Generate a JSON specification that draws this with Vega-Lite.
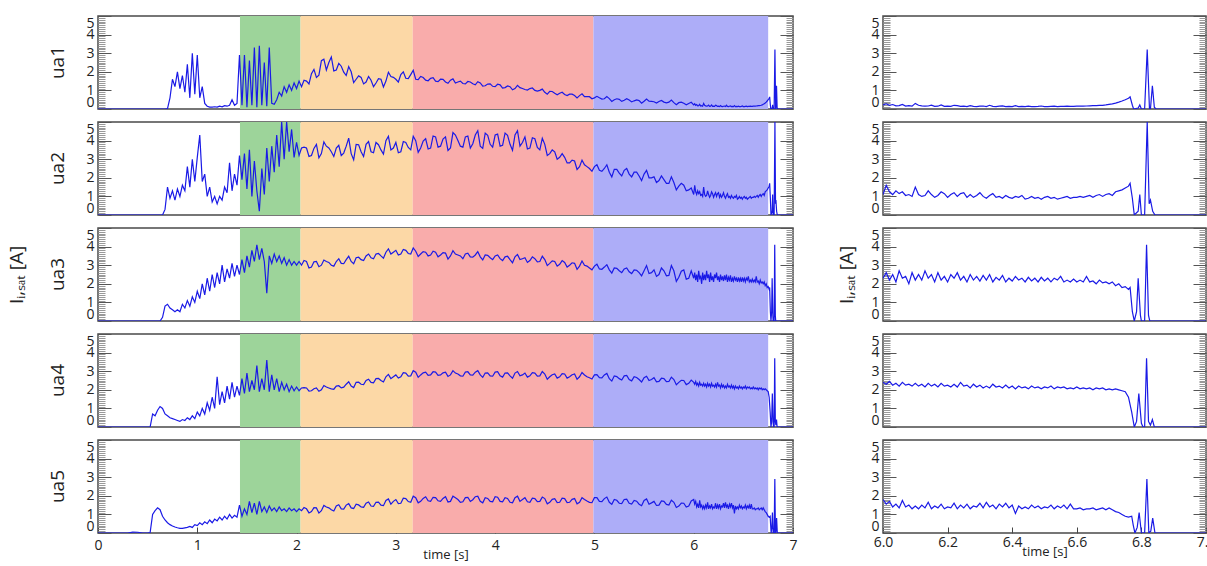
{
"$schema":"https://vega.github.io/schema/vega-lite/v6.json",
"background":"white",
"padding":{"left":7,"top":10,"right":8,"bottom":0},
"config":{
"font":"Open Sans",
"view":{"stroke":"#4a4a4a","strokeWidth":1.5},
"axis":{"grid":false,"domain":false,"labelFontSize":14,"labelColor":"#222","titleFontSize":13,"titleFontWeight":"normal","titleColor":"#222","labelOverlap":false,"labelFlush":false,"labelBound":false},
"header":{"titleFontWeight":"normal","titleColor":"#222","labelColor":"#222"}
},
"data":{"values":[
{"band":"g","b0":1.43,"b1":2.04},{"band":"o","b0":2.04,"b1":3.17},{"band":"r","b0":3.17,"b1":4.99},{"band":"b","b0":4.99,"b1":6.75},
{"t":0,"ua1":0,"ua2":0,"ua3":0,"ua4":0,"ua5":0},
{"t":0.3,"ua1":0,"ua2":0,"ua3":0,"ua4":0,"ua5":0},
{"t":0.35,"ua5":0.05},{"t":0.4,"ua5":0.04},{"t":0.45,"ua5":0},
{"t":0.5,"ua1":0,"ua2":0,"ua3":0,"ua4":0,"ua5":0},
{"t":0.525,"ua1":0,"ua2":0,"ua3":0,"ua4":0,"ua5":0.02},
{"t":0.55,"ua1":0,"ua2":0,"ua3":0,"ua4":0.7,"ua5":1.0},
{"t":0.575,"ua1":0,"ua2":0,"ua3":0,"ua4":0.6,"ua5":1.2},
{"t":0.6,"ua1":0,"ua2":0,"ua3":0,"ua4":0.9,"ua5":1.35},
{"t":0.625,"ua1":0,"ua2":0,"ua3":0,"ua4":1.1,"ua5":1.25},
{"t":0.65,"ua1":0,"ua2":0,"ua3":0.2,"ua4":1.0,"ua5":0.9},
{"t":0.675,"ua1":0,"ua2":0.3,"ua3":0.8,"ua4":0.7,"ua5":0.7},
{"t":0.7,"ua1":0.02,"ua2":1.5,"ua3":0.9,"ua4":0.6,"ua5":0.55},
{"t":0.725,"ua1":0.6,"ua2":0.9,"ua3":0.7,"ua4":0.5,"ua5":0.45},
{"t":0.75,"ua1":1.6,"ua2":1.3,"ua3":0.6,"ua4":0.45,"ua5":0.38},
{"t":0.775,"ua1":1.2,"ua2":0.8,"ua3":0.5,"ua4":0.4,"ua5":0.32},
{"t":0.8,"ua1":2.0,"ua2":1.4,"ua3":0.6,"ua4":0.35,"ua5":0.28},
{"t":0.825,"ua1":1.1,"ua2":1.0,"ua3":0.5,"ua4":0.3,"ua5":0.25},
{"t":0.85,"ua1":1.8,"ua2":1.6,"ua3":0.9,"ua4":0.4,"ua5":0.25},
{"t":0.875,"ua1":0.9,"ua2":1.3,"ua3":0.7,"ua4":0.35,"ua5":0.28},
{"t":0.9,"ua1":2.4,"ua2":2.6,"ua3":1.1,"ua4":0.5,"ua5":0.3},
{"t":0.925,"ua1":0.6,"ua2":1.5,"ua3":0.8,"ua4":0.4,"ua5":0.35},
{"t":0.95,"ua1":3.0,"ua2":3.0,"ua3":1.3,"ua4":0.6,"ua5":0.3},
{"t":0.975,"ua1":0.8,"ua2":1.8,"ua3":1.0,"ua4":0.45,"ua5":0.45},
{"t":1.0,"ua1":2.9,"ua2":3.1,"ua3":1.6,"ua4":0.8,"ua5":0.4},
{"t":1.025,"ua1":0.6,"ua2":4.3,"ua3":1.2,"ua4":0.6,"ua5":0.55},
{"t":1.05,"ua1":1.2,"ua2":1.8,"ua3":2.0,"ua4":1.0,"ua5":0.45},
{"t":1.075,"ua1":0.3,"ua2":2.2,"ua3":1.4,"ua4":0.7,"ua5":0.6},
{"t":1.1,"ua1":0.15,"ua2":1.0,"ua3":2.3,"ua4":1.3,"ua5":0.5},
{"t":1.125,"ua1":0.1,"ua2":1.5,"ua3":1.6,"ua4":0.9,"ua5":0.7},
{"t":1.15,"ua1":0.1,"ua2":0.7,"ua3":2.5,"ua4":1.6,"ua5":0.55},
{"t":1.175,"ua1":0.12,"ua2":1.0,"ua3":1.8,"ua4":1.0,"ua5":0.75},
{"t":1.2,"ua1":0.1,"ua2":0.6,"ua3":2.6,"ua4":2.7,"ua5":0.65},
{"t":1.225,"ua1":0.15,"ua2":1.0,"ua3":2.0,"ua4":1.2,"ua5":0.85},
{"t":1.25,"ua1":0.12,"ua2":0.8,"ua3":3.0,"ua4":1.9,"ua5":0.7},
{"t":1.275,"ua1":0.18,"ua2":1.5,"ua3":2.1,"ua4":1.3,"ua5":0.9},
{"t":1.3,"ua1":0.15,"ua2":1.2,"ua3":2.8,"ua4":2.2,"ua5":0.75},
{"t":1.325,"ua1":0.2,"ua2":2.8,"ua3":2.3,"ua4":1.5,"ua5":1.0},
{"t":1.35,"ua1":0.5,"ua2":1.3,"ua3":3.1,"ua4":2.4,"ua5":0.8},
{"t":1.375,"ua1":0.2,"ua2":2.2,"ua3":2.4,"ua4":1.6,"ua5":0.95},
{"t":1.4,"ua1":0.3,"ua2":1.6,"ua3":3.0,"ua4":2.2,"ua5":0.85},
{"t":1.425,"ua1":2.9,"ua2":3.2,"ua3":2.5,"ua4":1.7,"ua5":1.5},
{"t":1.45,"ua1":0.2,"ua2":1.9,"ua3":3.3,"ua4":2.6,"ua5":0.9},
{"t":1.475,"ua1":2.9,"ua2":3.3,"ua3":2.6,"ua4":1.8,"ua5":1.3},
{"t":1.5,"ua1":0.1,"ua2":1.4,"ua3":3.5,"ua4":2.9,"ua5":1.0},
{"t":1.525,"ua1":2.6,"ua2":3.5,"ua3":2.9,"ua4":1.9,"ua5":1.7},
{"t":1.55,"ua1":0.2,"ua2":1.0,"ua3":3.8,"ua4":2.5,"ua5":1.1},
{"t":1.575,"ua1":3.3,"ua2":2.9,"ua3":3.2,"ua4":2.0,"ua5":1.6},
{"t":1.6,"ua1":0.1,"ua2":1.3,"ua3":4.1,"ua4":3.3,"ua5":1.0},
{"t":1.625,"ua1":3.4,"ua2":0.2,"ua3":3.3,"ua4":1.9,"ua5":1.7},
{"t":1.65,"ua1":0.2,"ua2":2.5,"ua3":3.9,"ua4":2.6,"ua5":1.15},
{"t":1.675,"ua1":2.5,"ua2":1.1,"ua3":3.2,"ua4":2.0,"ua5":1.4},
{"t":1.7,"ua1":0.15,"ua2":3.6,"ua3":1.5,"ua4":3.6,"ua5":1.1},
{"t":1.725,"ua1":3.3,"ua2":1.8,"ua3":3.5,"ua4":1.9,"ua5":1.45},
{"t":1.75,"ua1":0.3,"ua2":3.7,"ua3":3.1,"ua4":2.8,"ua5":1.2},
{"t":1.775,"ua1":0.25,"ua2":2.3,"ua3":3.6,"ua4":2.0,"ua5":1.35},
{"t":1.8,"ua1":0.5,"ua2":4.3,"ua3":3.2,"ua4":2.6,"ua5":1.15},
{"t":1.825,"ua1":0.9,"ua2":2.6,"ua3":3.5,"ua4":1.9,"ua5":1.4},
{"t":1.85,"ua1":0.7,"ua2":5.0,"ua3":3.1,"ua4":2.4,"ua5":1.2},
{"t":1.875,"ua1":1.2,"ua2":3.0,"ua3":3.4,"ua4":2.0,"ua5":1.3},
{"t":1.9,"ua1":0.9,"ua2":5.0,"ua3":3.0,"ua4":2.3,"ua5":1.15},
{"t":1.925,"ua1":1.3,"ua2":3.4,"ua3":3.3,"ua4":1.9,"ua5":1.35},
{"t":1.95,"ua1":1.0,"ua2":4.6,"ua3":3.0,"ua4":2.2,"ua5":1.2},
{"t":1.975,"ua1":1.4,"ua2":3.1,"ua3":3.2,"ua4":1.95,"ua5":1.3},
{"t":2.0,"ua1":1.1,"ua2":3.9,"ua3":3.0,"ua4":2.15,"ua5":1.15},
{"t":2.025,"ua1":1.5,"ua2":3.2,"ua3":3.2,"ua4":1.95,"ua5":1.3},
{"t":2.05,"ua1":1.2,"ua2":3.6,"ua3":3.0,"ua4":2.1,"ua5":1.2},
{"t":2.1,"ua1":1.5,"ua2":3.6,"ua3":3.2,"ua4":2.1,"ua5":1.3},
{"t":2.15,"ua1":1.9,"ua2":3.2,"ua3":2.9,"ua4":1.95,"ua5":1.15},
{"t":2.2,"ua1":1.7,"ua2":3.8,"ua3":3.2,"ua4":2.1,"ua5":1.35},
{"t":2.25,"ua1":2.6,"ua2":3.3,"ua3":3.0,"ua4":2.0,"ua5":1.2},
{"t":2.3,"ua1":2.1,"ua2":3.7,"ua3":3.2,"ua4":2.15,"ua5":1.4},
{"t":2.35,"ua1":2.8,"ua2":3.4,"ua3":3.0,"ua4":2.05,"ua5":1.25},
{"t":2.4,"ua1":2.1,"ua2":3.6,"ua3":3.2,"ua4":2.2,"ua5":1.45},
{"t":2.45,"ua1":2.3,"ua2":3.2,"ua3":3.1,"ua4":2.1,"ua5":1.3},
{"t":2.5,"ua1":1.8,"ua2":3.7,"ua3":3.3,"ua4":2.3,"ua5":1.5},
{"t":2.55,"ua1":2.0,"ua2":3.3,"ua3":3.2,"ua4":2.2,"ua5":1.35},
{"t":2.6,"ua1":1.6,"ua2":3.8,"ua3":3.4,"ua4":2.4,"ua5":1.55},
{"t":2.65,"ua1":1.7,"ua2":3.4,"ua3":3.3,"ua4":2.3,"ua5":1.4},
{"t":2.7,"ua1":1.45,"ua2":3.8,"ua3":3.5,"ua4":2.5,"ua5":1.6},
{"t":2.75,"ua1":1.55,"ua2":3.4,"ua3":3.4,"ua4":2.4,"ua5":1.45},
{"t":2.8,"ua1":1.4,"ua2":3.9,"ua3":3.6,"ua4":2.6,"ua5":1.65},
{"t":2.85,"ua1":1.6,"ua2":3.5,"ua3":3.5,"ua4":2.5,"ua5":1.5},
{"t":2.9,"ua1":1.5,"ua2":4.0,"ua3":3.7,"ua4":2.7,"ua5":1.75},
{"t":2.95,"ua1":1.75,"ua2":3.5,"ua3":3.6,"ua4":2.6,"ua5":1.55},
{"t":3.0,"ua1":1.6,"ua2":3.9,"ua3":3.8,"ua4":2.8,"ua5":1.8},
{"t":3.05,"ua1":1.85,"ua2":3.4,"ua3":3.6,"ua4":2.7,"ua5":1.6},
{"t":3.1,"ua1":1.65,"ua2":3.9,"ua3":3.8,"ua4":2.9,"ua5":1.85},
{"t":3.15,"ua1":1.85,"ua2":3.5,"ua3":3.6,"ua4":2.75,"ua5":1.65},
{"t":3.2,"ua1":1.6,"ua2":4.0,"ua3":3.75,"ua4":2.95,"ua5":1.9},
{"t":3.25,"ua1":1.75,"ua2":3.6,"ua3":3.6,"ua4":2.8,"ua5":1.7},
{"t":3.3,"ua1":1.55,"ua2":4.1,"ua3":3.7,"ua4":2.95,"ua5":1.95},
{"t":3.35,"ua1":1.65,"ua2":3.6,"ua3":3.55,"ua4":2.8,"ua5":1.7},
{"t":3.4,"ua1":1.5,"ua2":4.2,"ua3":3.7,"ua4":2.95,"ua5":1.9},
{"t":3.45,"ua1":1.6,"ua2":3.7,"ua3":3.55,"ua4":2.8,"ua5":1.7},
{"t":3.5,"ua1":1.45,"ua2":4.2,"ua3":3.65,"ua4":2.95,"ua5":1.95},
{"t":3.55,"ua1":1.55,"ua2":3.6,"ua3":3.5,"ua4":2.8,"ua5":1.7},
{"t":3.6,"ua1":1.4,"ua2":4.3,"ua3":3.6,"ua4":2.9,"ua5":1.9},
{"t":3.65,"ua1":1.5,"ua2":3.7,"ua3":3.5,"ua4":2.75,"ua5":1.65},
{"t":3.7,"ua1":1.35,"ua2":4.2,"ua3":3.6,"ua4":2.95,"ua5":1.9},
{"t":3.75,"ua1":1.45,"ua2":3.6,"ua3":3.45,"ua4":2.8,"ua5":1.7},
{"t":3.8,"ua1":1.3,"ua2":4.3,"ua3":3.55,"ua4":2.95,"ua5":1.95},
{"t":3.85,"ua1":1.4,"ua2":3.7,"ua3":3.45,"ua4":2.8,"ua5":1.7},
{"t":3.9,"ua1":1.25,"ua2":4.4,"ua3":3.55,"ua4":2.9,"ua5":1.9},
{"t":3.95,"ua1":1.35,"ua2":3.8,"ua3":3.4,"ua4":2.75,"ua5":1.7},
{"t":4.0,"ua1":1.2,"ua2":4.3,"ua3":3.5,"ua4":2.95,"ua5":1.95},
{"t":4.05,"ua1":1.3,"ua2":3.7,"ua3":3.35,"ua4":2.75,"ua5":1.7},
{"t":4.1,"ua1":1.15,"ua2":4.4,"ua3":3.45,"ua4":2.9,"ua5":1.9},
{"t":4.15,"ua1":1.2,"ua2":3.8,"ua3":3.3,"ua4":2.75,"ua5":1.65},
{"t":4.2,"ua1":1.1,"ua2":4.3,"ua3":3.45,"ua4":2.9,"ua5":1.9},
{"t":4.25,"ua1":1.15,"ua2":3.7,"ua3":3.3,"ua4":2.75,"ua5":1.7},
{"t":4.3,"ua1":1.05,"ua2":4.2,"ua3":3.4,"ua4":2.9,"ua5":1.9},
{"t":4.35,"ua1":1.1,"ua2":3.6,"ua3":3.25,"ua4":2.75,"ua5":1.65},
{"t":4.4,"ua1":1.0,"ua2":4.1,"ua3":3.35,"ua4":2.9,"ua5":1.85},
{"t":4.45,"ua1":1.0,"ua2":3.5,"ua3":3.2,"ua4":2.75,"ua5":1.7},
{"t":4.5,"ua1":0.9,"ua2":3.8,"ua3":3.3,"ua4":2.85,"ua5":1.85},
{"t":4.55,"ua1":0.95,"ua2":3.3,"ua3":3.1,"ua4":2.7,"ua5":1.65},
{"t":4.6,"ua1":0.85,"ua2":3.4,"ua3":3.2,"ua4":2.85,"ua5":1.85},
{"t":4.65,"ua1":0.85,"ua2":3.1,"ua3":3.05,"ua4":2.7,"ua5":1.65},
{"t":4.7,"ua1":0.78,"ua2":3.1,"ua3":3.15,"ua4":2.85,"ua5":1.85},
{"t":4.75,"ua1":0.8,"ua2":2.8,"ua3":3.0,"ua4":2.7,"ua5":1.65},
{"t":4.8,"ua1":0.72,"ua2":2.9,"ua3":3.1,"ua4":2.85,"ua5":1.85},
{"t":4.85,"ua1":0.72,"ua2":2.6,"ua3":2.95,"ua4":2.7,"ua5":1.65},
{"t":4.9,"ua1":0.66,"ua2":2.7,"ua3":3.0,"ua4":2.8,"ua5":1.8},
{"t":4.95,"ua1":0.66,"ua2":2.5,"ua3":2.85,"ua4":2.65,"ua5":1.65},
{"t":5.0,"ua1":0.6,"ua2":2.6,"ua3":2.95,"ua4":2.8,"ua5":1.9},
{"t":5.05,"ua1":0.6,"ua2":2.4,"ua3":2.8,"ua4":2.65,"ua5":1.7},
{"t":5.1,"ua1":0.55,"ua2":2.5,"ua3":2.9,"ua4":2.8,"ua5":1.85},
{"t":5.15,"ua1":0.56,"ua2":2.3,"ua3":2.75,"ua4":2.6,"ua5":1.65},
{"t":5.2,"ua1":0.5,"ua2":2.45,"ua3":2.85,"ua4":2.75,"ua5":1.8},
{"t":5.25,"ua1":0.52,"ua2":2.25,"ua3":2.7,"ua4":2.6,"ua5":1.6},
{"t":5.3,"ua1":0.47,"ua2":2.4,"ua3":2.8,"ua4":2.75,"ua5":1.8},
{"t":5.35,"ua1":0.48,"ua2":2.2,"ua3":2.65,"ua4":2.55,"ua5":1.6},
{"t":5.4,"ua1":0.44,"ua2":2.3,"ua3":2.75,"ua4":2.7,"ua5":1.75},
{"t":5.45,"ua1":0.45,"ua2":2.1,"ua3":2.6,"ua4":2.55,"ua5":1.55},
{"t":5.5,"ua1":0.42,"ua2":2.2,"ua3":2.7,"ua4":2.65,"ua5":1.75},
{"t":5.55,"ua1":0.42,"ua2":2.0,"ua3":2.55,"ua4":2.5,"ua5":1.55},
{"t":5.6,"ua1":0.39,"ua2":2.05,"ua3":2.75,"ua4":2.65,"ua5":1.7},
{"t":5.65,"ua1":0.4,"ua2":1.85,"ua3":2.5,"ua4":2.45,"ua5":1.5},
{"t":5.7,"ua1":0.37,"ua2":1.9,"ua3":2.7,"ua4":2.6,"ua5":1.7},
{"t":5.75,"ua1":0.37,"ua2":1.7,"ua3":2.45,"ua4":2.45,"ua5":1.5},
{"t":5.8,"ua1":0.34,"ua2":1.75,"ua3":2.7,"ua4":2.55,"ua5":1.65},
{"t":5.85,"ua1":0.34,"ua2":1.55,"ua3":2.35,"ua4":2.4,"ua5":1.45},
{"t":5.9,"ua1":0.31,"ua2":1.6,"ua3":2.75,"ua4":2.5,"ua5":1.6},
{"t":5.95,"ua1":0.3,"ua2":1.35,"ua3":2.3,"ua4":2.35,"ua5":1.45},
{"t":2.075,"ua1":1.55,"ua2":3.65,"ua3":3.25,"ua4":2.12,"ua5":1.37},
{"t":2.125,"ua1":1.35,"ua2":3.15,"ua3":2.85,"ua4":1.93,"ua5":1.08},
{"t":2.175,"ua1":2.13,"ua2":3.58,"ua3":3.18,"ua4":2.06,"ua5":1.36},
{"t":2.225,"ua1":1.82,"ua2":3.07,"ua3":2.92,"ua4":1.92,"ua5":1.07},
{"t":2.275,"ua1":2.68,"ua2":3.93,"ua3":3.28,"ua4":2.23,"ua5":1.48},
{"t":2.325,"ua1":2.5,"ua2":3.6,"ua3":3.15,"ua4":2.1,"ua5":1.35},
{"t":2.375,"ua1":2.05,"ua2":3.15,"ua3":2.95,"ua4":2.03,"ua5":1.18},
{"t":2.425,"ua1":2.45,"ua2":3.75,"ua3":3.35,"ua4":2.22,"ua5":1.52},
{"t":2.475,"ua1":1.98,"ua2":3.33,"ua3":3.08,"ua4":2.14,"ua5":1.29},
{"t":2.525,"ua1":2.28,"ua2":4.13,"ua3":3.48,"ua4":2.43,"ua5":1.58},
{"t":2.575,"ua1":1.42,"ua2":2.97,"ua3":3.08,"ua4":2.12,"ua5":1.32},
{"t":2.625,"ua1":1.78,"ua2":3.78,"ua3":3.43,"ua4":2.41,"ua5":1.51},
{"t":2.675,"ua1":1.35,"ua2":3.15,"ua3":3.25,"ua4":2.28,"ua5":1.38},
{"t":2.725,"ua1":1.75,"ua2":3.95,"ua3":3.6,"ua4":2.57,"ua5":1.67},
{"t":2.775,"ua1":1.2,"ua2":3.35,"ua3":3.35,"ua4":2.38,"ua5":1.43},
{"t":2.825,"ua1":1.63,"ua2":3.78,"ua3":3.63,"ua4":2.61,"ua5":1.66},
{"t":2.875,"ua1":1.18,"ua2":3.28,"ua3":3.38,"ua4":2.42,"ua5":1.47},
{"t":2.925,"ua1":1.98,"ua2":4.23,"ua3":3.88,"ua4":2.83,"ua5":1.83},
{"t":2.975,"ua1":1.7,"ua2":3.6,"ua3":3.7,"ua4":2.7,"ua5":1.7},
{"t":3.025,"ua1":1.45,"ua2":3.35,"ua3":3.55,"ua4":2.63,"ua5":1.58},
{"t":3.075,"ua1":2.0,"ua2":3.95,"ua3":3.85,"ua4":2.92,"ua5":1.87},
{"t":3.125,"ua1":1.63,"ua2":3.63,"ua3":3.63,"ua4":2.74,"ua5":1.69},
{"t":3.175,"ua1":2.08,"ua2":4.23,"ua3":3.93,"ua4":3.03,"ua5":1.98},
{"t":3.225,"ua1":1.58,"ua2":3.37,"ua3":3.47,"ua4":2.67,"ua5":1.62},
{"t":3.275,"ua1":1.69,"ua2":3.98,"ua3":3.73,"ua4":2.91,"ua5":1.86},
{"t":3.325,"ua1":1.52,"ua2":3.55,"ua3":3.5,"ua4":2.78,"ua5":1.73},
{"t":3.375,"ua1":1.68,"ua2":4.25,"ua3":3.75,"ua4":2.97,"ua5":1.92},
{"t":3.425,"ua1":1.47,"ua2":3.65,"ua3":3.45,"ua4":2.78,"ua5":1.73},
{"t":3.475,"ua1":1.59,"ua2":4.08,"ua3":3.68,"ua4":2.91,"ua5":1.86},
{"t":3.525,"ua1":1.38,"ua2":3.47,"ua3":3.33,"ua4":2.72,"ua5":1.67},
{"t":3.575,"ua1":1.62,"ua2":4.43,"ua3":3.78,"ua4":3.03,"ua5":1.98},
{"t":3.625,"ua1":1.45,"ua2":4.0,"ua3":3.55,"ua4":2.85,"ua5":1.8},
{"t":3.675,"ua1":1.37,"ua2":3.65,"ua3":3.35,"ua4":2.73,"ua5":1.68},
{"t":3.725,"ua1":1.48,"ua2":4.25,"ua3":3.65,"ua4":2.97,"ua5":1.92},
{"t":3.775,"ua1":1.36,"ua2":3.83,"ua3":3.43,"ua4":2.79,"ua5":1.79},
{"t":3.825,"ua1":1.47,"ua2":4.53,"ua3":3.73,"ua4":3.03,"ua5":1.98},
{"t":3.875,"ua1":1.23,"ua2":3.58,"ua3":3.28,"ua4":2.67,"ua5":1.62},
{"t":3.925,"ua1":1.34,"ua2":4.28,"ua3":3.53,"ua4":2.91,"ua5":1.86},
{"t":3.975,"ua1":1.22,"ua2":3.65,"ua3":3.3,"ua4":2.73,"ua5":1.68},
{"t":4.025,"ua1":1.33,"ua2":4.35,"ua3":3.55,"ua4":2.97,"ua5":1.92},
{"t":4.075,"ua1":1.12,"ua2":3.75,"ua3":3.25,"ua4":2.68,"ua5":1.68},
{"t":4.125,"ua1":1.24,"ua2":4.28,"ua3":3.48,"ua4":2.91,"ua5":1.86},
{"t":4.175,"ua1":1.03,"ua2":3.48,"ua3":3.13,"ua4":2.62,"ua5":1.62},
{"t":4.225,"ua1":1.27,"ua2":4.53,"ua3":3.58,"ua4":2.98,"ua5":1.98},
{"t":4.275,"ua1":1.1,"ua2":3.9,"ua3":3.35,"ua4":2.8,"ua5":1.8},
{"t":4.325,"ua1":1.02,"ua2":3.55,"ua3":3.15,"ua4":2.68,"ua5":1.68},
{"t":4.375,"ua1":1.13,"ua2":4.15,"ua3":3.45,"ua4":2.92,"ua5":1.87},
{"t":4.425,"ua1":0.96,"ua2":3.63,"ua3":3.18,"ua4":2.74,"ua5":1.69},
{"t":4.475,"ua1":1.07,"ua2":4.13,"ua3":3.48,"ua4":2.98,"ua5":1.93},
{"t":4.525,"ua1":0.8,"ua2":3.2,"ua3":2.98,"ua4":2.57,"ua5":1.57},
{"t":4.575,"ua1":0.94,"ua2":3.5,"ua3":3.23,"ua4":2.81,"ua5":1.81},
{"t":4.625,"ua1":0.77,"ua2":3.0,"ua3":2.95,"ua4":2.63,"ua5":1.63},
{"t":4.675,"ua1":0.9,"ua2":3.3,"ua3":3.25,"ua4":2.87,"ua5":1.87},
{"t":4.725,"ua1":0.72,"ua2":2.8,"ua3":2.9,"ua4":2.63,"ua5":1.63},
{"t":4.775,"ua1":0.8,"ua2":2.95,"ua3":3.13,"ua4":2.81,"ua5":1.81},
{"t":4.825,"ua1":0.6,"ua2":2.45,"ua3":2.78,"ua4":2.57,"ua5":1.57},
{"t":4.875,"ua1":0.82,"ua2":2.95,"ua3":3.23,"ua4":2.93,"ua5":1.9},
{"t":4.925,"ua1":0.66,"ua2":2.6,"ua3":2.95,"ua4":2.7,"ua5":1.72},
{"t":4.975,"ua1":0.55,"ua2":2.35,"ua3":2.75,"ua4":2.58,"ua5":1.63},
{"t":5.025,"ua1":0.68,"ua2":2.7,"ua3":3.05,"ua4":2.82,"ua5":1.9},
{"t":5.075,"ua1":0.53,"ua2":2.35,"ua3":2.78,"ua4":2.64,"ua5":1.69},
{"t":5.125,"ua1":0.67,"ua2":2.7,"ua3":3.03,"ua4":2.88,"ua5":1.93},
{"t":5.175,"ua1":0.41,"ua2":2.05,"ua3":2.58,"ua4":2.47,"ua5":1.54},
{"t":5.225,"ua1":0.55,"ua2":2.45,"ua3":2.83,"ua4":2.71,"ua5":1.76},
{"t":5.275,"ua1":0.41,"ua2":2.1,"ua3":2.6,"ua4":2.53,"ua5":1.58},
{"t":5.325,"ua1":0.55,"ua2":2.5,"ua3":2.85,"ua4":2.77,"ua5":1.82},
{"t":5.375,"ua1":0.38,"ua2":2.05,"ua3":2.55,"ua4":2.48,"ua5":1.56},
{"t":5.425,"ua1":0.49,"ua2":2.3,"ua3":2.73,"ua4":2.66,"ua5":1.71},
{"t":5.475,"ua1":0.31,"ua2":1.85,"ua3":2.43,"ua4":2.42,"ua5":1.47},
{"t":5.525,"ua1":0.54,"ua2":2.4,"ua3":2.98,"ua4":2.73,"ua5":1.83},
{"t":5.575,"ua1":0.41,"ua2":2.0,"ua3":2.6,"ua4":2.55,"ua5":1.62},
{"t":5.625,"ua1":0.32,"ua2":1.75,"ua3":2.4,"ua4":2.43,"ua5":1.48},
{"t":5.675,"ua1":0.46,"ua2":2.1,"ua3":2.85,"ua4":2.62,"ua5":1.72},
{"t":5.725,"ua1":0.33,"ua2":1.7,"ua3":2.43,"ua4":2.44,"ua5":1.54},
{"t":5.775,"ua1":0.48,"ua2":2.05,"ua3":2.98,"ua4":2.68,"ua5":1.76},
{"t":5.825,"ua1":0.23,"ua2":1.35,"ua3":2.13,"ua4":2.27,"ua5":1.37},
{"t":5.875,"ua1":0.37,"ua2":1.7,"ua3":2.68,"ua4":2.51,"ua5":1.61},
{"t":5.925,"ua1":0.23,"ua2":1.3,"ua3":2.25,"ua4":2.28,"ua5":1.4},
{"t":5.975,"ua1":0.36,"ua2":1.45,"ua3":2.7,"ua4":2.52,"ua5":1.72},
{"t":6.0,"ua1":0.22,"ua2":1.1,"ua3":2.3,"ua4":2.4,"ua5":1.8},
{"t":6.01,"ua1":0.28,"ua2":1.6,"ua3":2.6,"ua4":2.3,"ua5":1.55},
{"t":6.02,"ua1":0.2,"ua2":1.25,"ua3":2.2,"ua4":2.45,"ua5":1.7},
{"t":6.03,"ua1":0.24,"ua2":1.1,"ua3":2.5,"ua4":2.25,"ua5":1.4},
{"t":6.04,"ua1":0.17,"ua2":1.3,"ua3":2.1,"ua4":2.35,"ua5":1.55},
{"t":6.05,"ua1":0.18,"ua2":1.15,"ua3":2.7,"ua4":2.2,"ua5":1.35},
{"t":6.06,"ua1":0.25,"ua2":1.25,"ua3":2.3,"ua4":2.4,"ua5":1.75},
{"t":6.07,"ua1":0.16,"ua2":1.05,"ua3":2.4,"ua4":2.25,"ua5":1.4},
{"t":6.08,"ua1":0.18,"ua2":1.1,"ua3":2.0,"ua4":2.3,"ua5":1.5},
{"t":6.09,"ua1":0.15,"ua2":1.0,"ua3":2.6,"ua4":2.2,"ua5":1.3},
{"t":6.1,"ua1":0.3,"ua2":1.5,"ua3":2.2,"ua4":2.35,"ua5":1.45},
{"t":6.11,"ua1":0.2,"ua2":1.1,"ua3":2.5,"ua4":2.2,"ua5":1.3},
{"t":6.12,"ua1":0.17,"ua2":1.0,"ua3":2.2,"ua4":2.3,"ua5":1.5},
{"t":6.13,"ua1":0.15,"ua2":1.05,"ua3":2.7,"ua4":2.15,"ua5":1.35},
{"t":6.14,"ua1":0.16,"ua2":1.3,"ua3":2.3,"ua4":2.35,"ua5":1.65},
{"t":6.15,"ua1":0.21,"ua2":1.1,"ua3":2.5,"ua4":2.2,"ua5":1.3},
{"t":6.16,"ua1":0.14,"ua2":0.95,"ua3":2.1,"ua4":2.3,"ua5":1.45},
{"t":6.17,"ua1":0.15,"ua2":1.05,"ua3":2.6,"ua4":2.15,"ua5":1.35},
{"t":6.18,"ua1":0.22,"ua2":1.25,"ua3":2.2,"ua4":2.35,"ua5":1.55},
{"t":6.19,"ua1":0.14,"ua2":1.15,"ua3":2.4,"ua4":2.2,"ua5":1.3},
{"t":6.2,"ua1":0.15,"ua2":0.95,"ua3":2.1,"ua4":2.25,"ua5":1.4},
{"t":6.21,"ua1":0.14,"ua2":1.1,"ua3":2.5,"ua4":2.15,"ua5":1.35},
{"t":6.22,"ua1":0.2,"ua2":1.2,"ua3":2.3,"ua4":2.3,"ua5":1.6},
{"t":6.23,"ua1":0.18,"ua2":1.0,"ua3":2.6,"ua4":2.15,"ua5":1.3},
{"t":6.24,"ua1":0.14,"ua2":1.15,"ua3":2.2,"ua4":2.4,"ua5":1.5},
{"t":6.25,"ua1":0.15,"ua2":1.2,"ua3":2.4,"ua4":2.2,"ua5":1.35},
{"t":6.26,"ua1":0.13,"ua2":0.95,"ua3":2.1,"ua4":2.25,"ua5":1.55},
{"t":6.27,"ua1":0.18,"ua2":1.1,"ua3":2.5,"ua4":2.1,"ua5":1.3},
{"t":6.28,"ua1":0.14,"ua2":0.95,"ua3":2.2,"ua4":2.3,"ua5":1.45},
{"t":6.29,"ua1":0.13,"ua2":1.05,"ua3":2.4,"ua4":2.15,"ua5":1.4},
{"t":6.3,"ua1":0.15,"ua2":1.2,"ua3":2.15,"ua4":2.25,"ua5":1.6},
{"t":6.31,"ua1":0.16,"ua2":1.0,"ua3":2.45,"ua4":2.1,"ua5":1.35},
{"t":6.32,"ua1":0.13,"ua2":0.9,"ua3":2.2,"ua4":2.2,"ua5":1.65},
{"t":6.33,"ua1":0.2,"ua2":1.05,"ua3":2.5,"ua4":2.1,"ua5":1.4},
{"t":6.34,"ua1":0.14,"ua2":1.15,"ua3":2.1,"ua4":2.3,"ua5":1.5},
{"t":6.35,"ua1":0.13,"ua2":0.95,"ua3":2.35,"ua4":2.15,"ua5":1.3},
{"t":6.36,"ua1":0.15,"ua2":1.0,"ua3":2.2,"ua4":2.2,"ua5":1.55},
{"t":6.37,"ua1":0.17,"ua2":0.9,"ua3":2.45,"ua4":2.1,"ua5":1.4},
{"t":6.38,"ua1":0.13,"ua2":1.05,"ua3":2.1,"ua4":2.25,"ua5":1.6},
{"t":6.39,"ua1":0.14,"ua2":0.95,"ua3":2.3,"ua4":2.1,"ua5":1.35},
{"t":6.4,"ua1":0.13,"ua2":0.9,"ua3":2.15,"ua4":2.2,"ua5":1.5},
{"t":6.41,"ua1":0.18,"ua2":1.0,"ua3":2.4,"ua4":2.05,"ua5":1.05},
{"t":6.42,"ua1":0.13,"ua2":0.95,"ua3":2.2,"ua4":2.2,"ua5":1.45},
{"t":6.43,"ua1":0.14,"ua2":1.05,"ua3":2.3,"ua4":2.1,"ua5":1.3},
{"t":6.44,"ua1":0.13,"ua2":0.85,"ua3":2.1,"ua4":2.15,"ua5":1.4},
{"t":6.45,"ua1":0.15,"ua2":0.9,"ua3":2.35,"ua4":2.05,"ua5":1.3},
{"t":6.46,"ua1":0.13,"ua2":1.0,"ua3":2.15,"ua4":2.2,"ua5":1.5},
{"t":6.47,"ua1":0.13,"ua2":0.9,"ua3":2.3,"ua4":2.1,"ua5":1.35},
{"t":6.48,"ua1":0.14,"ua2":0.95,"ua3":2.1,"ua4":2.15,"ua5":1.45},
{"t":6.49,"ua1":0.16,"ua2":0.85,"ua3":2.35,"ua4":2.05,"ua5":1.3},
{"t":6.5,"ua1":0.13,"ua2":0.95,"ua3":2.15,"ua4":2.15,"ua5":1.4},
{"t":6.51,"ua1":0.13,"ua2":1.0,"ua3":2.3,"ua4":2.1,"ua5":1.35},
{"t":6.52,"ua1":0.14,"ua2":0.9,"ua3":2.1,"ua4":2.2,"ua5":1.5},
{"t":6.53,"ua1":0.15,"ua2":0.95,"ua3":2.3,"ua4":2.05,"ua5":1.3},
{"t":6.54,"ua1":0.13,"ua2":0.85,"ua3":2.2,"ua4":2.15,"ua5":1.45},
{"t":6.55,"ua1":0.14,"ua2":0.9,"ua3":2.4,"ua4":2.1,"ua5":1.35},
{"t":6.56,"ua1":0.14,"ua2":0.95,"ua3":2.1,"ua4":2.15,"ua5":1.5},
{"t":6.57,"ua1":0.15,"ua2":1.0,"ua3":2.2,"ua4":2.05,"ua5":1.3},
{"t":6.58,"ua1":0.14,"ua2":0.9,"ua3":2.1,"ua4":2.1,"ua5":1.55},
{"t":6.59,"ua1":0.14,"ua2":0.95,"ua3":2.25,"ua4":2.05,"ua5":1.3},
{"t":6.6,"ua1":0.15,"ua2":0.95,"ua3":2.1,"ua4":2.15,"ua5":1.3},
{"t":6.61,"ua1":0.16,"ua2":1.0,"ua3":2.2,"ua4":2.05,"ua5":1.35},
{"t":6.62,"ua1":0.15,"ua2":0.95,"ua3":2.1,"ua4":2.1,"ua5":1.25},
{"t":6.63,"ua1":0.16,"ua2":1.0,"ua3":2.4,"ua4":2.05,"ua5":1.3},
{"t":6.64,"ua1":0.17,"ua2":1.05,"ua3":2.1,"ua4":2.1,"ua5":1.3},
{"t":6.65,"ua1":0.18,"ua2":0.95,"ua3":2.15,"ua4":2.0,"ua5":1.35},
{"t":6.66,"ua1":0.18,"ua2":1.05,"ua3":2.0,"ua4":2.1,"ua5":1.25},
{"t":6.67,"ua1":0.19,"ua2":1.1,"ua3":2.2,"ua4":2.05,"ua5":1.3},
{"t":6.68,"ua1":0.2,"ua2":1.0,"ua3":2.05,"ua4":2.1,"ua5":1.35},
{"t":6.69,"ua1":0.22,"ua2":1.1,"ua3":2.1,"ua4":2.0,"ua5":1.25},
{"t":6.7,"ua1":0.25,"ua2":1.15,"ua3":2.0,"ua4":2.05,"ua5":1.35},
{"t":6.71,"ua1":0.28,"ua2":1.05,"ua3":2.1,"ua4":2.0,"ua5":1.25},
{"t":6.72,"ua1":0.32,"ua2":1.25,"ua3":1.9,"ua4":2.05,"ua5":1.15},
{"t":6.73,"ua1":0.37,"ua2":1.3,"ua3":2.0,"ua4":2.0,"ua5":1.1},
{"t":6.74,"ua1":0.43,"ua2":1.35,"ua3":1.8,"ua4":1.95,"ua5":1.0},
{"t":6.75,"ua1":0.5,"ua2":1.45,"ua3":1.85,"ua4":1.9,"ua5":0.9},
{"t":6.76,"ua1":0.58,"ua2":1.55,"ua3":1.7,"ua4":1.6,"ua5":0.85},
{"t":6.765,"ua1":0.65,"ua2":1.7,"ua3":1.8},
{"t":6.77,"ua4":0.8,"ua5":0.9},
{"t":6.772,"ua1":0.2,"ua2":0.9,"ua3":0.5},
{"t":6.775,"ua5":0.4},
{"t":6.776,"ua1":0},
{"t":6.778,"ua2":0,"ua3":0,"ua4":0},
{"t":6.78,"ua5":0},
{"t":6.785,"ua3":0.5,"ua4":0.3},
{"t":6.787,"ua5":0.3},
{"t":6.79,"ua1":0.05,"ua2":0.2,"ua3":2.3},
{"t":6.792,"ua4":1.8},
{"t":6.793,"ua5":1.1},
{"t":6.795,"ua1":0.22,"ua2":1.1},
{"t":6.797,"ua3":0.3},
{"t":6.8,"ua1":0,"ua2":0,"ua3":0,"ua4":0.2,"ua5":0},
{"t":6.805,"ua4":0},
{"t":6.81,"ua1":0,"ua2":0,"ua3":0,"ua4":0,"ua5":0},
{"t":6.816,"ua3":4.1,"ua4":3.7},
{"t":6.817,"ua5":2.9},
{"t":6.818,"ua1":3.2,"ua2":5.0},
{"t":6.822,"ua3":0.3,"ua4":0.3},
{"t":6.823,"ua5":0},
{"t":6.824,"ua2":0.6},
{"t":6.825,"ua1":0},
{"t":6.826,"ua3":0},
{"t":6.828,"ua1":0,"ua2":0.8,"ua4":0.1},
{"t":6.829,"ua5":0.1},
{"t":6.834,"ua1":1.25,"ua4":0.4},
{"t":6.835,"ua2":0.2,"ua5":0.8},
{"t":6.84,"ua1":0.1,"ua4":0},
{"t":6.842,"ua2":0,"ua5":0},
{"t":6.845,"ua1":0},
{"t":7.0,"ua1":0,"ua2":0,"ua3":0,"ua4":0,"ua5":0}
]},
"spacing":39,
"hconcat":[
{
"transform":[{"fold":["ua1","ua2","ua3","ua4","ua5"],"as":["ch","v"]}],
"facet":{"row":{"field":"ch","type":"nominal","title":"Iᵢ,ₛₐₜ [A]","header":{"labelOrient":"left","labelAngle":-90,"labelFontSize":19,"labelPadding":21,"titleOrient":"left","titleAngle":-90,"titleFontSize":19,"titlePadding":-7}}},
"spacing":13,
"bounds":"flush",
"resolve":{"scale":{"y":"independent"}},
"spec":{
"width":695,"height":93,
"layer":[
{"transform":[{"filter":"isValid(datum.band)"}],
"mark":{"type":"rect"},
"encoding":{"x":{"field":"b0","type":"quantitative","scale":{"domain":[0,7],"nice":false},"title":"time [s]"},"x2":{"field":"b1"},
"y":{"datum":0,"type":"quantitative","scale":{"domain":[0,5],"nice":false},"axis":null},"y2":{"datum":5},
"color":{"field":"band","type":"nominal","scale":{"domain":["g","o","r","b"],"range":["#9dd49a","#fcd8a6","#f9acab","#adadf8"]},"legend":null}}},
{"transform":[{"filter":"isValid(datum.t) && isValid(datum.v)"}],
"mark":{"type":"line","color":"#1a1ae6","strokeWidth":1.2,"clip":true},
"encoding":{
"x":{"field":"t","type":"quantitative","scale":{"domain":[0,7],"nice":false},"title":"time [s]",
"axis":{"labelOverlap":false,"values":[0,1,2,3,4,5,6,7],"format":"d",
"tickSize":-6,"tickColor":"#444","labelPadding":11,"titlePadding":-4}},
"y":{"field":"v","type":"quantitative","scale":{"domain":[0,5],"nice":false},
"axis":{"title":null,"labelFlush":true,"labelOverlap":false,"values":[0,0.1,0.2,0.3,0.4,0.5,0.6,0.7,0.8,0.9,1,1.1,1.2,1.3,1.4,1.5,1.6,1.7,1.8,1.9,2,2.1,2.2,2.3,2.4,2.5,2.6,2.7,2.8,2.9,3,3.1,3.2,3.3,3.4,3.5,3.6,3.7,3.8,3.9,4,4.1,4.2,4.3,4.4,4.5,4.6,4.7,4.8,4.9,5],
"labelExpr":"abs(datum.value-round(datum.value))<0.001 ? format(datum.value,'d') : ''",
"tickSize":{"condition":{"test":"abs(datum.value-round(datum.value))<0.001","value":-13},"value":-7},
"tickColor":{"condition":{"test":"abs(datum.value-round(datum.value))<0.001","value":"#555"},"value":"#999"},
"labelPadding":17}}}},
{"transform":[{"filter":"isValid(datum.t) && isValid(datum.v)"}],
"mark":{"type":"line","opacity":0},
"encoding":{
"x":{"field":"t","type":"quantitative","title":"time [s]"},
"y":{"field":"v","type":"quantitative","scale":{"domain":[0,5],"nice":false},
"axis":{"orient":"right","title":null,"labels":false,"values":[0,0.1,0.2,0.3,0.4,0.5,0.6,0.7,0.8,0.9,1,1.1,1.2,1.3,1.4,1.5,1.6,1.7,1.8,1.9,2,2.1,2.2,2.3,2.4,2.5,2.6,2.7,2.8,2.9,3,3.1,3.2,3.3,3.4,3.5,3.6,3.7,3.8,3.9,4,4.1,4.2,4.3,4.4,4.5,4.6,4.7,4.8,4.9,5],
"tickSize":{"condition":{"test":"abs(datum.value-round(datum.value))<0.001","value":-13},"value":-7},
"tickColor":{"condition":{"test":"abs(datum.value-round(datum.value))<0.001","value":"#555"},"value":"#999"}}}}}
],
"resolve":{"scale":{"y":"independent"}}
}
},
{
"transform":[{"fold":["ua1","ua2","ua3","ua4","ua5"],"as":["ch","v"]}],
"facet":{"row":{"field":"ch","type":"nominal","title":"Iᵢ,ₛₐₜ [A]","header":{"labels":false,"labelPadding":0,"titleOrient":"left","titleAngle":-90,"titleFontSize":19,"titlePadding":-3}}},
"spacing":13,
"bounds":"flush",
"resolve":{"scale":{"y":"independent"}},
"spec":{
"width":323,"height":93,
"layer":[
{"transform":[{"filter":"isValid(datum.t) && isValid(datum.v) && datum.t >= 5.99"}],
"mark":{"type":"line","color":"#1a1ae6","strokeWidth":1.2,"clip":true},
"encoding":{
"x":{"field":"t","type":"quantitative","scale":{"domain":[6,7],"nice":false},"title":"time [s]",
"axis":{"labelOverlap":false,"values":[6,6.05,6.1,6.15,6.2,6.25,6.3,6.35,6.4,6.45,6.5,6.55,6.6,6.65,6.7,6.75,6.8,6.85,6.9,6.95,7],
"labelExpr":"abs(datum.value*5-round(datum.value*5))<0.001 ? format(datum.value,'.1f') : ''",
"tickSize":{"condition":{"test":"abs(datum.value*10-round(datum.value*10))<0.001","value":-6},"value":-3},
"tickColor":"#444","labelPadding":8,"titlePadding":-4}},
"y":{"field":"v","type":"quantitative","scale":{"domain":[0,5],"nice":false},
"axis":{"title":null,"labelFlush":true,"labelOverlap":false,"values":[0,0.1,0.2,0.3,0.4,0.5,0.6,0.7,0.8,0.9,1,1.1,1.2,1.3,1.4,1.5,1.6,1.7,1.8,1.9,2,2.1,2.2,2.3,2.4,2.5,2.6,2.7,2.8,2.9,3,3.1,3.2,3.3,3.4,3.5,3.6,3.7,3.8,3.9,4,4.1,4.2,4.3,4.4,4.5,4.6,4.7,4.8,4.9,5],
"labelExpr":"abs(datum.value-round(datum.value))<0.001 ? format(datum.value,'d') : ''",
"tickSize":{"condition":{"test":"abs(datum.value-round(datum.value))<0.001","value":-13},"value":-7},
"tickColor":{"condition":{"test":"abs(datum.value-round(datum.value))<0.001","value":"#555"},"value":"#999"},
"labelPadding":17}}}},
{"transform":[{"filter":"isValid(datum.t) && isValid(datum.v) && datum.t >= 5.99"}],
"mark":{"type":"line","opacity":0},
"encoding":{
"x":{"field":"t","type":"quantitative","title":"time [s]"},
"y":{"field":"v","type":"quantitative","scale":{"domain":[0,5],"nice":false},
"axis":{"orient":"right","title":null,"labels":false,"values":[0,0.1,0.2,0.3,0.4,0.5,0.6,0.7,0.8,0.9,1,1.1,1.2,1.3,1.4,1.5,1.6,1.7,1.8,1.9,2,2.1,2.2,2.3,2.4,2.5,2.6,2.7,2.8,2.9,3,3.1,3.2,3.3,3.4,3.5,3.6,3.7,3.8,3.9,4,4.1,4.2,4.3,4.4,4.5,4.6,4.7,4.8,4.9,5],
"tickSize":{"condition":{"test":"abs(datum.value-round(datum.value))<0.001","value":-13},"value":-7},
"tickColor":{"condition":{"test":"abs(datum.value-round(datum.value))<0.001","value":"#555"},"value":"#999"}}}}}
],
"resolve":{"scale":{"y":"independent"}}
}
}
]
}
